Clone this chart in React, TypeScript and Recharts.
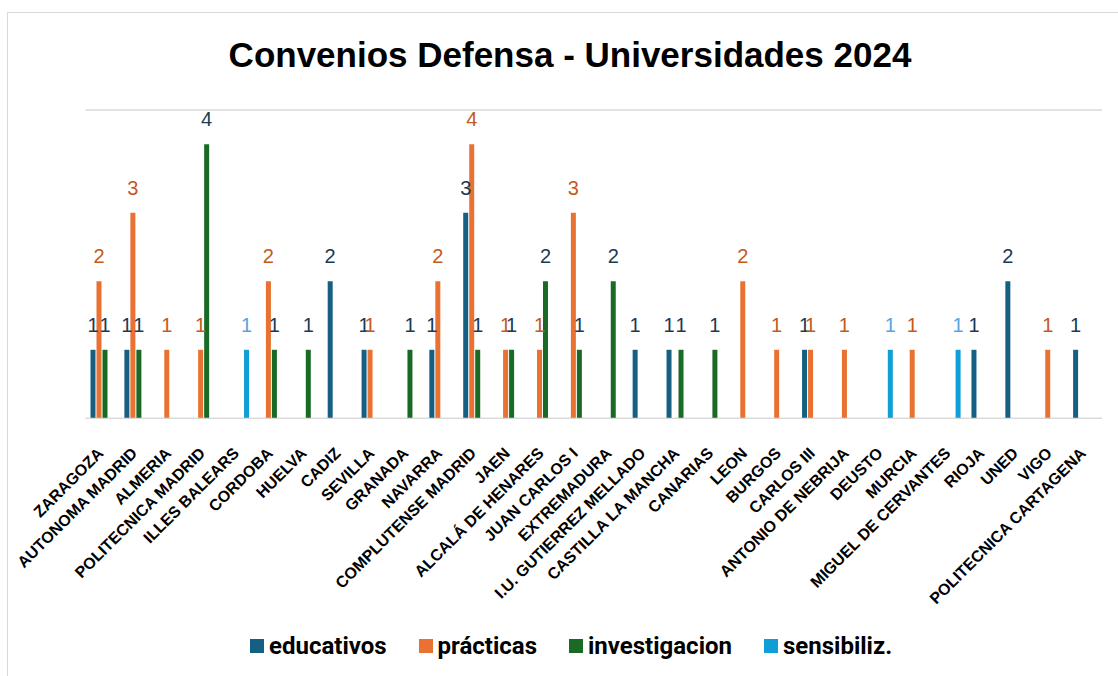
import { BarChart, Bar, XAxis, YAxis, CartesianGrid, LabelList } from 'recharts';

const universidades = [
	'ZARAGOZA',
	'AUTONOMA MADRID',
	'ALMERIA',
	'POLITECNICA MADRID',
	'ILLES BALEARS',
	'CORDOBA',
	'HUELVA',
	'CADIZ',
	'SEVILLA',
	'GRANADA',
	'NAVARRA',
	'COMPLUTENSE MADRID',
	'JAEN',
	'ALCALÁ DE HENARES',
	'JUAN CARLOS I',
	'EXTREMADURA',
	'I.U. GUTIERREZ MELLADO',
	'CASTILLA LA MANCHA',
	'CANARIAS',
	'LEON',
	'BURGOS',
	'CARLOS III',
	'ANTONIO DE NEBRIJA',
	'DEUSTO',
	'MURCIA',
	'MIGUEL DE CERVANTES',
	'RIOJA',
	'UNED',
	'VIGO',
	'POLITECNICA CARTAGENA'
];

// null = sin convenio de ese tipo
const educativos = [1, 1, null, null, null, null, null, 2, 1, null, 1, 3, null, null, null, null, 1, 1, null, null, null, 1, null, null, null, null, 1, 2, null, 1];
const practicas = [2, 3, 1, 1, null, 2, null, null, 1, null, 2, 4, 1, 1, 3, null, null, null, null, 2, 1, 1, 1, null, 1, null, null, null, 1, null];
const investigacion = [1, 1, null, 4, null, 1, 1, null, null, 1, null, 1, 1, 2, 1, 2, null, 1, 1, null, null, null, null, null, null, null, null, null, null, null];
const sensibiliz = [null, null, null, null, 1, null, null, null, null, null, null, null, null, null, null, null, null, null, null, null, null, null, null, 1, null, 1, null, null, null, null];

const yTicks = [0, 0.5, 1, 1.5, 2, 2.5, 3, 3.5, 4, 4.5];

const series = [
	{ key: 'educativos', name: 'educativos', color: '#156082', labelColor: '#1b3a55' },
	{ key: 'practicas', name: 'prácticas', color: '#E97132', labelColor: '#c45a1c' },
	{ key: 'investigacion', name: 'investigacion', color: '#196B24', labelColor: '#1b3a55' },
	{ key: 'sensibiliz', name: 'sensibiliz.', color: '#0F9ED5', labelColor: '#5aa2e2' }
];

const data = universidades.map((name, i) => ({
	name,
	educativos: educativos[i],
	practicas: practicas[i],
	investigacion: investigacion[i],
	sensibiliz: sensibiliz[i]
}));

const FONT = '"Liberation Sans", Arial, sans-serif';

const UniTick = (props: any) => {
	const { x, y, payload } = props;
	return (
		<g transform={`translate(${x - 2},${y + 24})`}>
			<text
				x={0}
				y={0}
				dy='0.35em'
				textAnchor='end'
				transform='rotate(-45)'
				fontFamily={FONT}
				fontWeight='bold'
				fontSize={16}
				fill='#000'
			>
				{payload.value}
			</text>
		</g>
	);
};

const valueLabel = (color: string) => (props: any) => {
	const { x, y, width, value } = props;
	if (value == null || value === 0) return null;
	return (
		<text
			x={x + width / 2}
			y={y - 18}
			textAnchor='middle'
			fontFamily={FONT}
			fontSize={20}
			fill={color}
		>
			{value}
		</text>
	);
};

const App = () => {
	return (
		<div
			style={{
				position: 'absolute',
				left: 0,
				top: 0,
				width: 1118,
				height: 676,
				overflow: 'hidden',
				background: '#fff'
			}}
		>
			<div
				style={{
					position: 'absolute',
					left: 7,
					top: 12,
					width: 1200,
					height: 700,
					borderTop: '1.5px solid #d9d9d9',
					borderLeft: '1.5px solid #d9d9d9'
				}}
			/>
			<div
				style={{
					position: 'absolute',
					left: 0,
					top: 37,
					width: 1140,
					textAlign: 'center',
					fontFamily: FONT,
					fontWeight: 'bold',
					fontSize: 35,
					lineHeight: '35px',
					color: '#000'
				}}
			>
				Convenios Defensa - Universidades 2024
			</div>
			<div style={{ position: 'absolute', left: 0, top: 0 }}>
				<BarChart
					width={1118}
					height={676}
					data={data}
					margin={{ top: 110, right: 16, left: 85.5, bottom: 116 }}
					barSize={5}
					barGap={1}
				>
					<CartesianGrid vertical={false} stroke='#d9d9d9' strokeWidth={1.3} />
					<YAxis
						domain={[0, 4.5]}
						ticks={yTicks}
						width={0}
						tick={false}
						axisLine={false}
						tickLine={false}
					/>
					<XAxis
						dataKey='name'
						interval={0}
						height={141.7}
						tickLine={false}
						axisLine={{ stroke: '#d9d9d9', strokeWidth: 1.3 }}
						tick={<UniTick />}
					/>
					{series.map((s) => (
						<Bar
							key={s.key}
							dataKey={s.key}
							name={s.name}
							fill={s.color}
							isAnimationActive={false}
						>
							<LabelList dataKey={s.key} content={valueLabel(s.labelColor)} />
						</Bar>
					))}
				</BarChart>
			</div>
			<div
				style={{
					position: 'absolute',
					left: 250,
					top: 633,
					display: 'flex',
					alignItems: 'center',
					fontFamily: 'Roboto, sans-serif',
					fontWeight: 'bold',
					fontSize: 24,
					lineHeight: '26px',
					color: '#000'
				}}
			>
				{series.map((s) => (
					<div
						key={s.key}
						style={{ display: 'flex', alignItems: 'center', marginRight: 32 }}
					>
						<span
							style={{
								display: 'inline-block',
								width: 14,
								height: 14,
								background: s.color,
								marginRight: 5
							}}
						/>
						<span>{s.name}</span>
					</div>
				))}
			</div>
		</div>
	);
};

export default App;
